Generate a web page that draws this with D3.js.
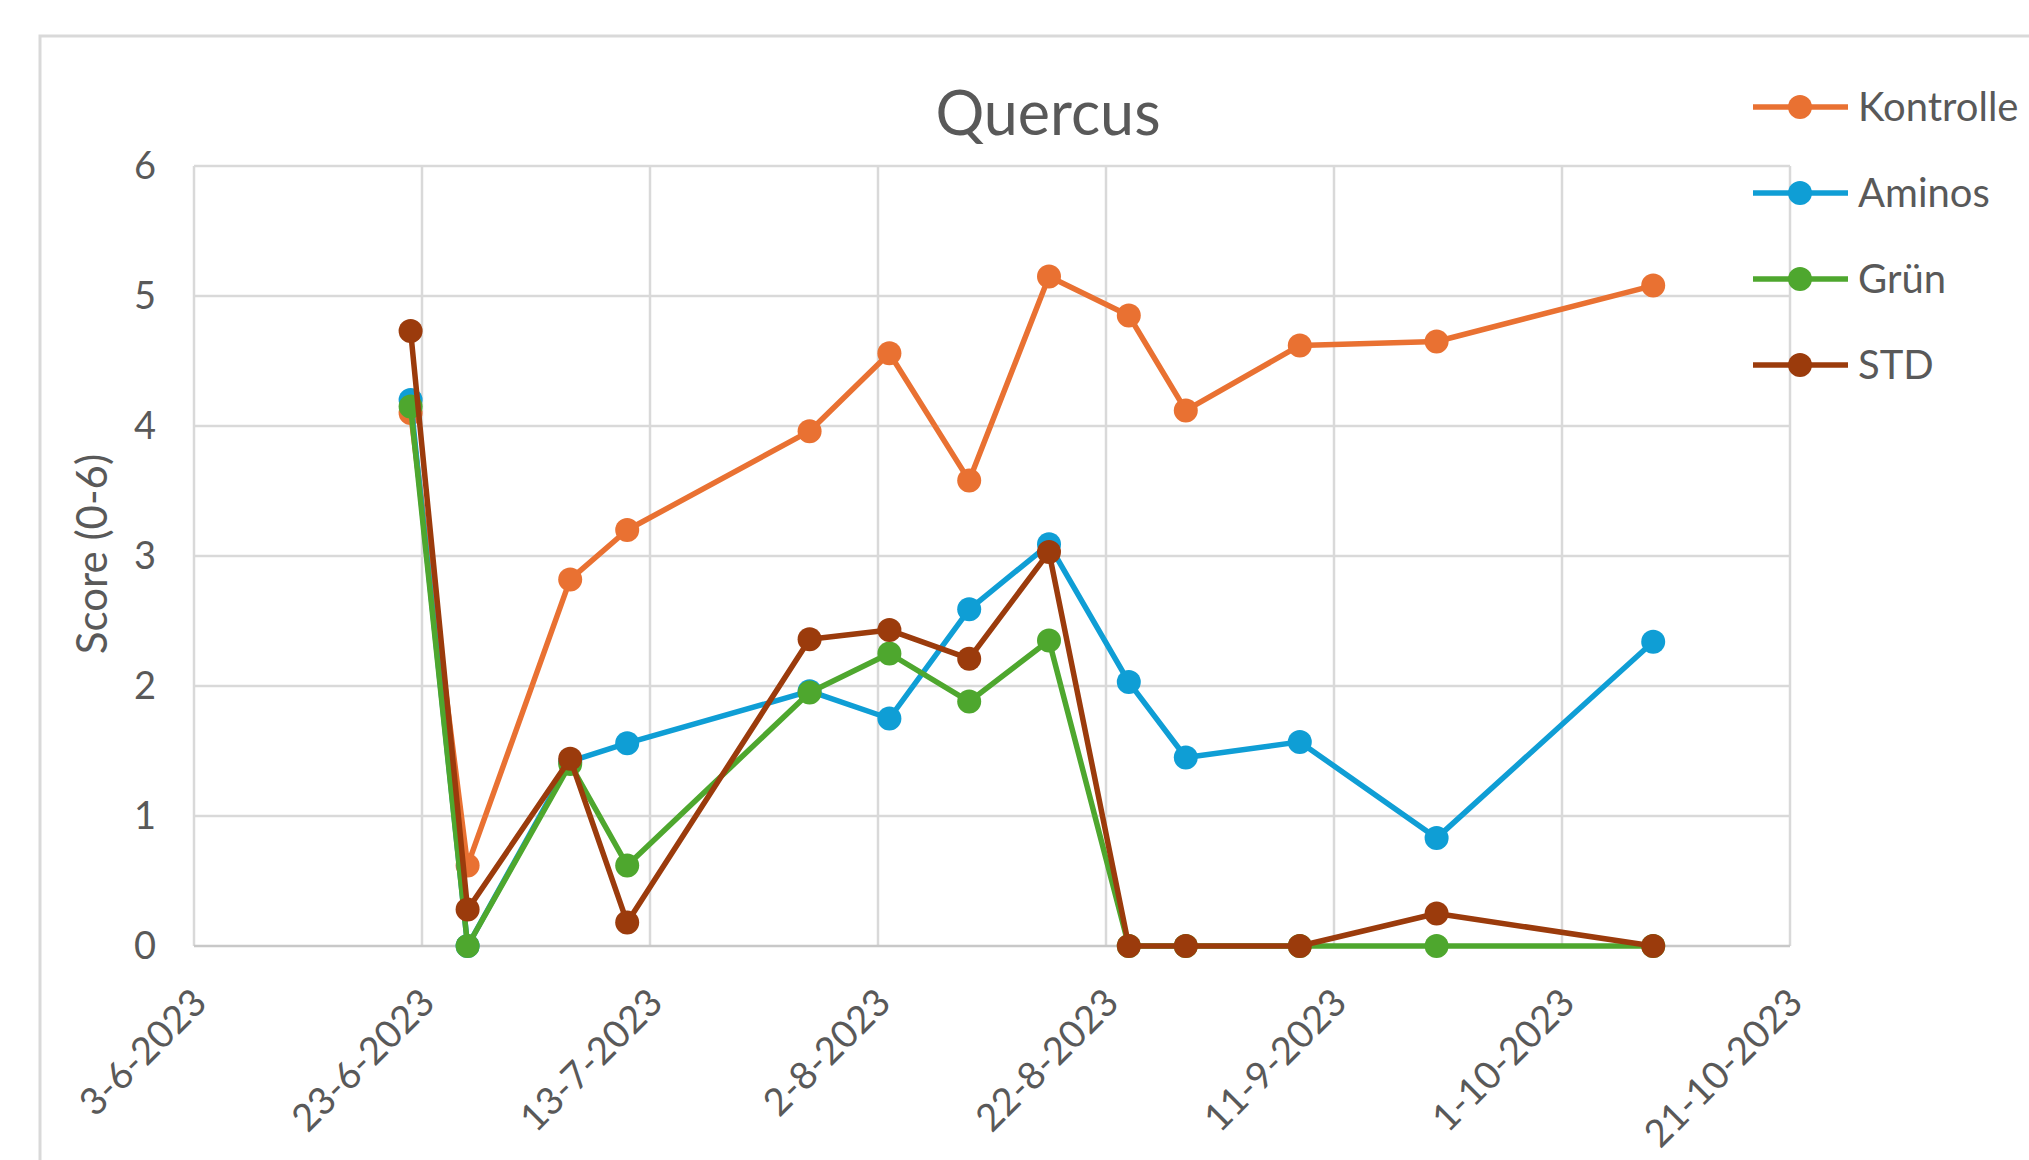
<!DOCTYPE html>
<html>
<head>
<meta charset="utf-8">
<script src="https://cdn.jsdelivr.net/npm/d3@7"></script>
<style>
  body { margin: 0; background: #fff; }
  svg { display: block; font-family: Lato, "Open Sans", sans-serif; }
</style>
</head>
<body>
<svg id="chart" width="2029" height="1160"></svg>
<script>
// Measurement dates (d-m-Y)
const dates = ['22-6-2023', '27-6-2023', '6-7-2023', '11-7-2023', '27-7-2023', '3-8-2023', '10-8-2023',
               '17-8-2023', '24-8-2023', '29-8-2023', '8-9-2023', '20-9-2023', '9-10-2023'];

const kontrolle = [4.10, 0.62, 2.82, 3.20, 3.96, 4.56, 3.58, 5.15, 4.85, 4.12, 4.62, 4.65, 5.08];
const aminos    = [4.20, 0.00, 1.42, 1.56, 1.96, 1.75, 2.59, 3.09, 2.03, 1.45, 1.57, 0.83, 2.34];
const gruen     = [4.15, 0.00, 1.40, 0.62, 1.95, 2.25, 1.88, 2.35, 0.00, 0.00, 0.00, 0.00, 0.00];
const std       = [4.73, 0.28, 1.44, 0.18, 2.36, 2.43, 2.21, 3.03, 0.00, 0.00, 0.00, 0.25, 0.00];

const seriesNames = ['Kontrolle', 'Aminos', 'Grün', 'STD'];
const seriesColors = ['#E97132', '#0F9ED5', '#4EA72E', '#9B3B0C'];

const xTickLabels = ['3-6-2023', '23-6-2023', '13-7-2023', '2-8-2023', '22-8-2023', '11-9-2023', '1-10-2023', '21-10-2023'];
const yTicks = [0, 1, 2, 3, 4, 5, 6];

const parseDate = d3.utcParse('%d-%m-%Y');
const fmtDate = d3.utcFormat('%-d-%-m-%Y');

const series = [kontrolle, aminos, gruen, std].map((vals, i) => ({
    name: seriesNames[i],
    color: seriesColors[i],
    values: vals.map((v, j) => ({ date: parseDate(dates[j]), value: v }))
}));

const svg = d3.select('#chart');
const plot = { left: 194, right: 1790, top: 166, bottom: 946 };

// outer chart border (cropped on the right and bottom)
svg.append('rect')
    .attr('x', 40).attr('y', 36)
    .attr('width', 2100).attr('height', 1200)
    .attr('fill', '#fff')
    .attr('stroke', '#d9d9d9')
    .attr('stroke-width', 3);

const tickDates = xTickLabels.map(parseDate);

const x = d3.scaleUtc()
    .domain([tickDates[0], tickDates[tickDates.length - 1]])
    .range([plot.left, plot.right]);

const y = d3.scaleLinear()
    .domain([0, 6])
    .range([plot.bottom, plot.top]);

// gridlines
svg.append('g')
    .selectAll('line')
    .data(tickDates)
    .join('line')
    .attr('x1', d => x(d)).attr('x2', d => x(d))
    .attr('y1', plot.top).attr('y2', plot.bottom)
    .attr('stroke', '#d9d9d9')
    .attr('stroke-width', 2.5);

svg.append('g')
    .selectAll('line')
    .data(yTicks)
    .join('line')
    .attr('x1', plot.left).attr('x2', plot.right)
    .attr('y1', d => y(d)).attr('y2', d => y(d))
    .attr('stroke', d => d === 0 ? '#c8c8c8' : '#d9d9d9')
    .attr('stroke-width', 2.5);

// y axis labels
svg.append('g')
    .selectAll('text')
    .data(yTicks)
    .join('text')
    .attr('x', plot.left - 38)
    .attr('y', d => y(d))
    .attr('dy', '0.35em')
    .attr('text-anchor', 'end')
    .attr('fill', '#595959')
    .style('font-size', '38px')
    .text(d => d);

// x axis labels (rotated)
svg.append('g')
    .selectAll('text')
    .data(tickDates)
    .join('text')
    .attr('transform', d => `translate(${x(d) - 4},${plot.bottom + 40}) rotate(-45)`)
    .attr('text-anchor', 'end')
    .attr('dy', '0.7em')
    .attr('fill', '#595959')
    .style('font-size', '38px')
    .text(d => fmtDate(d));

// axis title
svg.append('text')
    .attr('transform', `translate(92,554) rotate(-90)`)
    .attr('text-anchor', 'middle')
    .attr('dy', '0.35em')
    .attr('fill', '#595959')
    .style('font-size', '42px')
    .text('Score (0-6)');

// chart title
svg.append('text')
    .attr('x', 1048)
    .attr('y', 114)
    .attr('dy', '0.35em')
    .attr('text-anchor', 'middle')
    .attr('fill', '#595959')
    .style('font-size', '61px')
    .text('Quercus');

// lines and markers
const line = d3.line()
    .x(d => x(d.date))
    .y(d => y(d.value));

series.forEach(s => {
    const g = svg.append('g');
    g.append('path')
        .datum(s.values)
        .attr('d', line)
        .attr('fill', 'none')
        .attr('stroke', s.color)
        .attr('stroke-width', 5.5)
        .attr('stroke-linejoin', 'round');
    g.selectAll('circle')
        .data(s.values)
        .join('circle')
        .attr('cx', d => x(d.date))
        .attr('cy', d => y(d.value))
        .attr('r', 12)
        .attr('fill', s.color);
});

// legend
const legend = svg.append('g')
    .selectAll('g')
    .data(series)
    .join('g')
    .attr('transform', (d, i) => `translate(0,${107 + i * 86})`);

legend.append('line')
    .attr('x1', 1753).attr('x2', 1848)
    .attr('stroke', d => d.color)
    .attr('stroke-width', 5.5);

legend.append('circle')
    .attr('cx', 1800)
    .attr('r', 12)
    .attr('fill', d => d.color);

legend.append('text')
    .attr('x', 1858)
    .attr('dy', '0.35em')
    .attr('fill', '#595959')
    .style('font-size', '40px')
    .text(d => d.name);
</script>
</body>
</html>
